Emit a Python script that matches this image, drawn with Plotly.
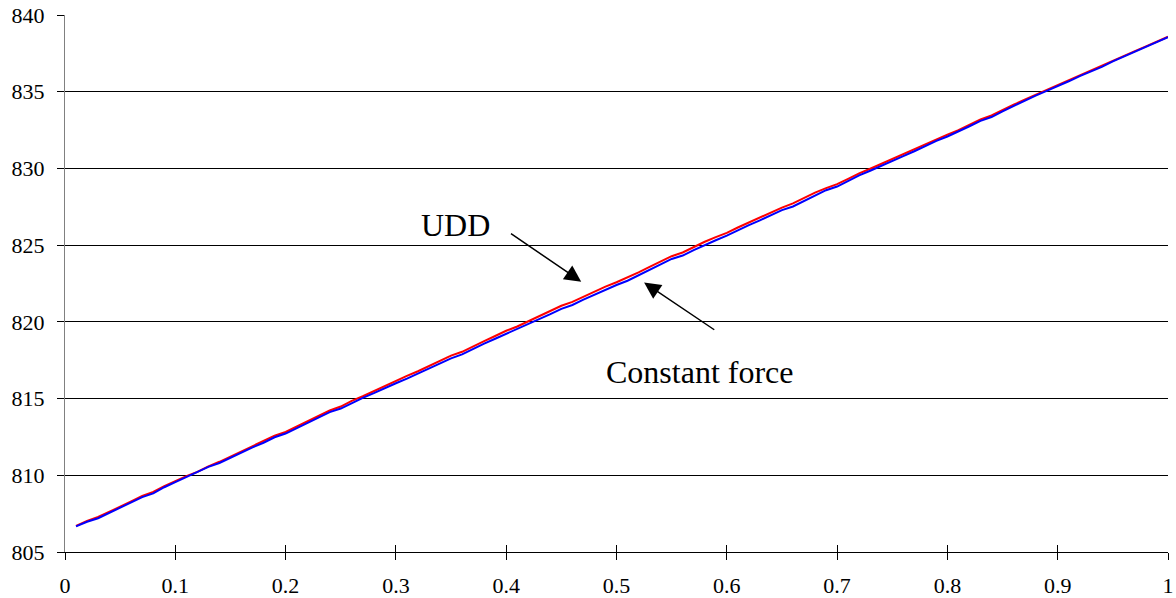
import plotly.graph_objects as go

x_vals = [round(0.01 * k, 2) for k in range(1, 101)]

constant_force = [
    806.67, 806.97, 807.20, 807.55, 807.90, 808.28, 808.58, 808.82, 809.22, 809.55,
    809.88, 810.18, 810.55, 810.80, 811.15, 811.50, 811.82, 812.12, 812.48, 812.72,
    813.08, 813.42, 813.80, 814.12, 814.35, 814.72, 815.05, 815.35, 815.70, 816.00,
    816.30, 816.62, 816.98, 817.30, 817.62, 817.88, 818.25, 818.58, 818.90, 819.22,
    819.50, 819.85, 820.18, 820.50, 820.85, 821.10, 821.45, 821.78, 822.10, 822.40,
    822.68, 823.02, 823.38, 823.75, 824.10, 824.32, 824.68, 825.02, 825.32, 825.62,
    825.98, 826.30, 826.62, 826.95, 827.28, 827.52, 827.88, 828.22, 828.58, 828.82,
    829.18, 829.55, 829.85, 830.15, 830.48, 830.80, 831.12, 831.48, 831.80, 832.08,
    832.40, 832.75, 833.10, 833.35, 833.72, 834.08, 834.40, 834.75, 835.05, 835.35,
    835.68, 836.02, 836.30, 836.62, 836.98, 837.30, 837.58, 837.90, 838.22, 838.55,
]

udd = [
    806.70, 807.03, 807.28, 807.60, 807.95, 808.30, 808.65, 808.92, 809.30, 809.62,
    809.95, 810.22, 810.58, 810.88, 811.22, 811.58, 811.90, 812.22, 812.58, 812.82,
    813.18, 813.52, 813.90, 814.22, 814.48, 814.85, 815.15, 815.48, 815.85, 816.15,
    816.48, 816.78, 817.12, 817.45, 817.80, 818.05, 818.42, 818.75, 819.08, 819.42,
    819.70, 820.05, 820.38, 820.72, 821.05, 821.30, 821.65, 821.98, 822.30, 822.58,
    822.88, 823.22, 823.58, 823.95, 824.28, 824.52, 824.88, 825.22, 825.52, 825.80,
    826.15, 826.48, 826.80, 827.12, 827.45, 827.72, 828.08, 828.42, 828.72, 828.98,
    829.32, 829.68, 829.98, 830.30, 830.62, 830.95, 831.25, 831.58, 831.92, 832.20,
    832.50, 832.85, 833.20, 833.45, 833.82, 834.15, 834.48, 834.80, 835.12, 835.42,
    835.75, 836.08, 836.38, 836.70, 837.05, 837.35, 837.65, 837.95, 838.25, 838.58,
]

y_ticks = [805, 810, 815, 820, 825, 830, 835, 840]
x_ticks = [0, 0.1, 0.2, 0.3, 0.4, 0.5, 0.6, 0.7, 0.8, 0.9, 1]
x_tick_labels = ["0", "0.1", "0.2", "0.3", "0.4", "0.5", "0.6", "0.7", "0.8", "0.9", "1"]

FONT = "Liberation Serif"

fig = go.Figure()
fig.add_trace(go.Scatter(x=x_vals, y=udd, mode="lines", name="UDD",
                         line=dict(color="#FF0000", width=2)))
fig.add_trace(go.Scatter(x=x_vals, y=constant_force, mode="lines", name="Constant force",
                         line=dict(color="#0000FF", width=2)))
# helper trace so that the overlaid tick axis is drawn
fig.add_trace(go.Scatter(x=[None], y=[None], xaxis="x2", showlegend=False, hoverinfo="skip"))

annotations = [
    dict(x=0.354, y=826.33, text="UDD", showarrow=False, xref="x", yref="y",
         font=dict(family=FONT, size=32, color="black")),
    dict(x=0.576, y=816.74, text="Constant force", showarrow=False, xref="x", yref="y",
         font=dict(family=FONT, size=32, color="black")),
    dict(x=0.468, y=822.62, ax=0.403, ay=825.82, axref="x", ayref="y", xref="x", yref="y",
         text="", showarrow=True, arrowhead=2, arrowsize=2.2, arrowwidth=1.5, arrowcolor="black"),
    dict(x=0.525, y=822.56, ax=0.590, ay=819.42, axref="x", ayref="y", xref="x", yref="y",
         text="", showarrow=True, arrowhead=2, arrowsize=2.2, arrowwidth=1.5, arrowcolor="black"),
]

fig.update_layout(
    width=1176, height=598,
    margin=dict(l=65, r=8, t=15, b=46, autoexpand=False),
    paper_bgcolor="white", plot_bgcolor="white",
    showlegend=False,
    font=dict(family=FONT, size=22, color="black"),
    annotations=annotations,
    xaxis=dict(range=[0, 1], tickvals=x_ticks, ticktext=x_tick_labels,
               automargin=False, ticklabeloverflow="allow",
               showgrid=False, zeroline=False,
               showline=True, linecolor="black", linewidth=1,
               ticks="outside", ticklen=7, tickcolor="black", tickwidth=1,
               ticklabelstandoff=7,
               tickfont=dict(family=FONT, size=22, color="black")),
    xaxis2=dict(range=[0, 1], overlaying="x", matches="x", side="bottom",
                automargin=False,
                tickvals=x_ticks, showticklabels=False, showgrid=False, zeroline=False,
                showline=False, ticks="inside", ticklen=7, tickcolor="black", tickwidth=1),
    yaxis=dict(range=[805, 840], tickvals=y_ticks,
               automargin=False, ticklabeloverflow="allow",
               showgrid=True, gridcolor="black", gridwidth=1, zeroline=False,
               showline=True, linecolor="#808080", linewidth=1,
               ticks="outside", ticklen=7, tickcolor="black", tickwidth=1,
               ticklabelstandoff=8,
               tickfont=dict(family=FONT, size=22, color="black")),
)

fig.write_html(
    "out.html",
    config={"displayModeBar": False},
    post_script="document.body.style.margin='0';document.body.style.overflow='hidden';",
)
